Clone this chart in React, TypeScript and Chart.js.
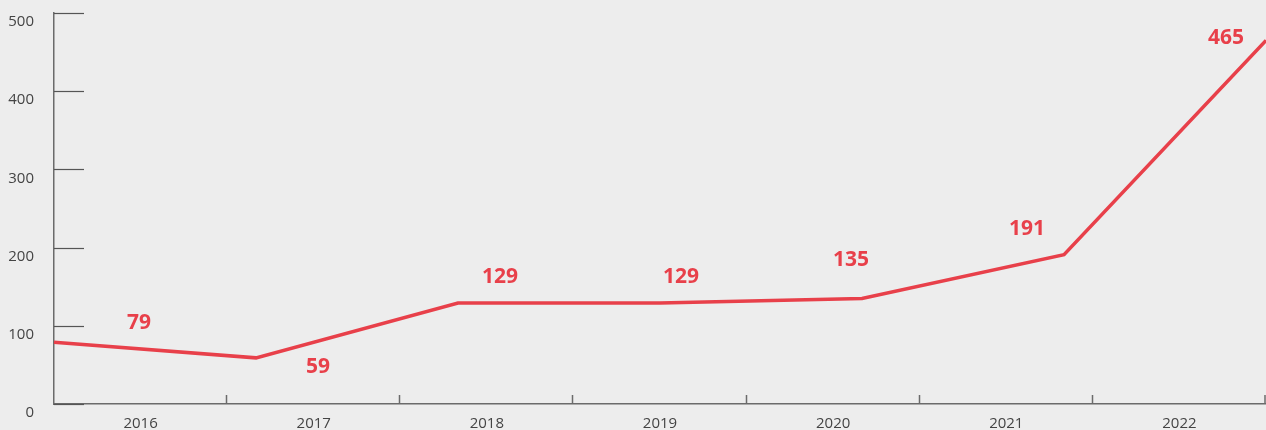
import React, { useEffect, useRef } from "react";
import { Chart, registerables } from "chart.js";

Chart.register(...registerables);

const years = ["2016", "2017", "2018", "2019", "2020", "2021", "2022"];
const values = [79, 59, 129, 129, 135, 191, 465];
const yTicks = [0, 100, 200, 300, 400, 500];

// label placement relative to each point (styling, px)
const labelShift = [
  [85, -19],
  [62, 9],
  [42, -26],
  [21, -26],
  [-11, -38],
  [-37, -26],
  [-40, -2],
];

const RED = "#e8404a";
const AXIS = "#6b6b6b";
const TEXT = "#444444";
const FONT = "'Open Sans', 'DejaVu Sans', sans-serif";

const decorPlugin = {
  id: "decor",
  beforeDatasetsDraw(chart: any) {
    const ctx = chart.ctx;
    const x = chart.scales.x;
    const y = chart.scales.y;
    ctx.save();
    ctx.strokeStyle = "#555555";
    ctx.lineWidth = 1.2;
    for (const v of yTicks) {
      const py = Math.round(y.getPixelForValue(v)) + 0.5;
      ctx.beginPath();
      ctx.moveTo(x.left, py);
      ctx.lineTo(x.left + 30, py);
      ctx.stroke();
    }
    const n = years.length;
    const w = (x.right - x.left) / n;
    ctx.strokeStyle = AXIS;
    ctx.lineWidth = 1.5;
    for (let i = 1; i <= n; i++) {
      const px = Math.min(Math.round(x.left + i * w) - 0.5, x.right - 1);
      ctx.beginPath();
      ctx.moveTo(px, y.bottom);
      ctx.lineTo(px, y.bottom - 9);
      ctx.stroke();
    }
    ctx.restore();
  },
  afterDatasetsDraw(chart: any) {
    const ctx = chart.ctx;
    const meta = chart.getDatasetMeta(0);
    ctx.save();
    ctx.fillStyle = RED;
    ctx.font = `700 21px ${FONT}`;
    ctx.textAlign = "center";
    ctx.textBaseline = "middle";
    meta.data.forEach((pt: any, i: number) => {
      const [dx, dy] = labelShift[i];
      ctx.fillText(String(values[i]), pt.x + dx, pt.y + dy);
    });
    ctx.restore();
  },
};

export default function App() {
  const ref = useRef<HTMLCanvasElement | null>(null);
  useEffect(() => {
    document.body.style.margin = "0";
    document.body.style.background = "#ededed";
    const canvas = ref.current!;
    const chart = new Chart(canvas, {
      type: "line",
      data: {
        labels: years,
        datasets: [
          {
            data: values.map((v, i) => ({ x: i, y: v })),
            xAxisID: "xData",
            borderColor: RED,
            borderWidth: 3.5,
            pointRadius: 0,
            tension: 0,
            fill: false,
            clip: false as any,
          },
        ],
      },
      options: {
        animation: false,
        responsive: false,
        devicePixelRatio: 1,
        layout: { padding: { top: 13, right: 0, left: 0, bottom: 0 } },
        plugins: { legend: { display: false }, tooltip: { enabled: false } },
        scales: {
          x: {
            type: "category",
            labels: years,
            offset: true,
            grid: { display: false, drawTicks: false },
            border: { display: true, color: AXIS, width: 1.5 },
            ticks: { padding: 11, color: TEXT, font: { family: FONT, size: 15 } },
            afterFit(scale: any) {
              scale.height = 26;
              scale.paddingLeft = 0;
              scale.paddingRight = 0;
            },
          },
          xData: {
            type: "linear",
            display: false,
            min: 0,
            max: years.length - 1,
          },
          y: {
            min: 0,
            max: 500,
            grid: { display: false, drawTicks: false },
            border: { display: true, color: AXIS, width: 1.5 },
            ticks: {
              stepSize: 100,
              padding: 20,
              labelOffset: 9,
              color: TEXT,
              font: { family: FONT, size: 15 },
            },
            afterFit(scale: any) {
              scale.width = 54;
              scale.paddingTop = 0;
              scale.paddingBottom = 0;
            },
          },
        },
      } as any,
      plugins: [decorPlugin],
    });
    return () => chart.destroy();
  }, []);
  return (
    <div style={{ width: 1266, height: 430, background: "#ededed" }}>
      <canvas ref={ref} width={1266} height={430} style={{ display: "block" }} />
    </div>
  );
}
